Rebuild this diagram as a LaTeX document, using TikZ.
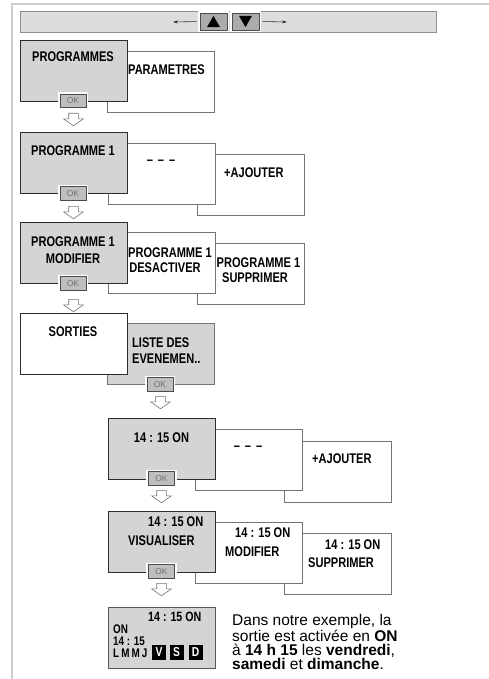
\documentclass[tikz,border=0pt]{standalone}
\usepackage{fontspec}
\setmainfont{Liberation Sans}
\newfontfamily\condfont[FakeStretch=0.79]{Liberation Sans}
\usetikzlibrary{shapes.geometric,shapes.arrows,arrows.meta}
\definecolor{panelgray}{RGB}{212,212,212}
\definecolor{barfill}{RGB}{221,221,221}
\definecolor{darkline}{RGB}{45,45,45}
\definecolor{midline}{RGB}{115,115,115}
\definecolor{framegray}{RGB}{205,205,205}
\definecolor{okfill}{RGB}{190,190,190}
\tikzset{
  selbox/.style={draw=darkline, fill=panelgray, line width=1pt, minimum width=107pt, minimum height=61pt, inner sep=0pt, anchor=north west},
  optbox/.style={draw=midline, fill=white, line width=0.8pt, minimum width=107pt, minimum height=61pt, inner sep=0pt, anchor=north west},
  txt/.style={font=\condfont\bfseries\fontsize{14}{16}\selectfont, inner sep=0pt, anchor=base},
  txtl/.style={txt, anchor=base west},
  scrtxt/.style={txtl, font=\condfont\bfseries\fontsize{12.5}{13}\selectfont},
  dashes/.style={txt, anchor=center},
  okbtn/.style={draw=darkline!85, fill=okfill, line width=0.6pt, minimum width=26pt, minimum height=13.5pt, inner sep=0pt, font=\fontsize{8.5}{8.5}\selectfont, text=black!55, preaction={draw=white, line width=4.5pt}},
  downarr/.style={single arrow, draw=midline, fill=white, line width=0.6pt, rotate=-90, minimum height=12.5pt, minimum width=19pt, single arrow head extend=5pt, single arrow tip angle=110, inner xsep=0pt, inner ysep=4.5pt, anchor=tail},
  daybox/.style={fill=black, text=white, font=\condfont\bfseries\fontsize{13}{14}\selectfont, minimum width=14pt, minimum height=14.5pt, inner sep=0pt}
}
\begin{document}
\begin{tikzpicture}[x=1pt,y=-1pt]
\useasboundingbox (0,0) rectangle (489,679);
\draw[framegray, line width=1.5pt] (489,4) -- (12,4) -- (12,679);
% top bar with the two keys
\node[draw=midline!80, fill=barfill, line width=0.8pt, minimum width=416pt, minimum height=21pt, inner sep=0pt, anchor=north west] (bar) at (20,11) {};
\node[okbtn, fill=okfill!90!black, minimum width=27pt, minimum height=17pt] (keyup) at (213.5,21.5) {};
\node[okbtn, fill=okfill!90!black, minimum width=27pt, minimum height=17pt] (keydown) at (245.5,21.5) {};
\node[regular polygon, regular polygon sides=3, fill=black, minimum size=15pt, inner sep=0pt] (triup) at (213.5,23.4) {};
\node[regular polygon, regular polygon sides=3, shape border rotate=180, fill=black, minimum size=15pt, inner sep=0pt] (tridown) at (245.5,19.6) {};
\coordinate (barleft) at (173,22);
\coordinate (barright) at (287,22);
\draw[darkline, line width=0.6pt, shorten <=3pt, -{Stealth[length=5pt,width=3pt]}] (keyup.west) -- (barleft);
\draw[darkline, line width=0.6pt, shorten <=3pt, -{Stealth[length=5pt,width=3pt]}] (keydown.east) -- (barright);
% programmes
\node[optbox] (parambox) at (107,51) {};
\node[selbox] (progsbox) at (20,40) {};
\node[txt] (progstxt) at (73,62) {PROGRAMMES};
\node[txtl] (paramtxt) at (128,75) {PARAMETRES};
\node[okbtn] (ok1) at (73,101) {OK};
\node[downarr] (arr1) at (73.5,113) {};
% programme 1
\node[optbox] (addbox1) at (197,154) {};
\node[optbox] (emptybox1) at (108,143) {};
\node[selbox] (prog1box) at (20,132) {};
\node[txt] (prog1txt) at (73,156) {PROGRAMME 1};
\node[dashes] (empty1txt) at (161,162) {–\hspace{5pt}–\hspace{5pt}–};
\node[txtl] (add1txt) at (224,177) {+AJOUTER};
\node[okbtn] (ok2) at (73,193.5) {OK};
\node[downarr] (arr2) at (73.5,206) {};
% modifier
\node[optbox] (delbox1) at (197,243) {};
\node[optbox] (offbox) at (108,232) {};
\node[selbox] (editbox1) at (20,222) {};
\node[txt] (edit1a) at (73,246) {PROGRAMME 1};
\node[txt] (edit1b) at (73,263) {MODIFIER};
\node[txt] (offa) at (170,257) {PROGRAMME 1};
\node[txt] (offb) at (165,272) {DESACTIVER};
\node[txt] (del1a) at (258.5,267) {PROGRAMME 1};
\node[txt] (del1b) at (255,282) {SUPPRIMER};
\node[okbtn] (ok3) at (73,283.5) {OK};
\node[downarr] (arr3) at (73.5,299) {};
% sorties
\node[selbox, draw=midline, line width=0.8pt] (listbox) at (107,323) {};
\node[selbox, fill=white] (outbox) at (20,313) {};
\node[txt] (outtxt) at (73,336) {SORTIES};
\node[txtl] (lista) at (132,347) {LISTE DES};
\node[txtl] (listb) at (132,363) {EVENEMEN..};
\node[okbtn] (ok4) at (160,384.5) {OK};
\node[downarr] (arr4) at (160.5,396) {};
% evenement
\node[optbox] (addbox2) at (284,441) {};
\node[optbox] (emptybox2) at (195,429) {};
\node[selbox] (evbox) at (108,418) {};
\node[txt] (evtxt) at (161.5,442) {14 : 15 ON};
\node[dashes] (empty2txt) at (248,448) {–\hspace{5pt}–\hspace{5pt}–};
\node[txtl] (add2txt) at (312,463) {+AJOUTER};
\node[okbtn] (ok5) at (161.5,478.5) {OK};
\node[downarr] (arr5) at (161.5,490) {};
% visualiser
\node[optbox] (delbox2) at (284,533) {};
\node[optbox] (editbox2) at (195,522) {};
\node[selbox] (viewbox) at (108,511) {};
\node[txtl] (viewa) at (148,526) {14 : 15 ON};
\node[txtl] (viewb) at (128,545) {VISUALISER};
\node[txtl] (edit2a) at (235,537) {14 : 15 ON};
\node[txtl] (edit2b) at (225,556) {MODIFIER};
\node[txtl] (del2a) at (325,549) {14 : 15 ON};
\node[txtl] (del2b) at (308,567) {SUPPRIMER};
\node[okbtn] (ok6) at (161.5,571.5) {OK};
\node[downarr] (arr6) at (161.5,583) {};
% ecran
\node[selbox, draw=darkline!80] (screen) at (108,607) {};
\node[scrtxt, font=\condfont\bfseries\fontsize{13.5}{14}\selectfont] (scra) at (148,621) {14 : 15 ON};
\node[scrtxt] (scrb) at (113,633) {ON};
\node[scrtxt] (scrc) at (113,645) {14 : 15};
\node[scrtxt] (scrd) at (113,657.5) {L\,M\,M\,J};
\node[daybox] (dayv) at (159,652.5) {V};
\node[daybox] (days) at (176.5,652.5) {S};
\node[daybox] (dayd) at (195.5,652.5) {D};
\node[anchor=base west, align=left, inner sep=0pt, font=\fontsize{15.5}{14.3}\selectfont] (note) at (232,669.9)
  {Dans notre exemple, la\\sortie est activée en \textbf{ON}\\à \textbf{14 h 15} les \textbf{vendredi},\\\textbf{samedi} et \textbf{dimanche}.};
\end{tikzpicture}
\end{document}
